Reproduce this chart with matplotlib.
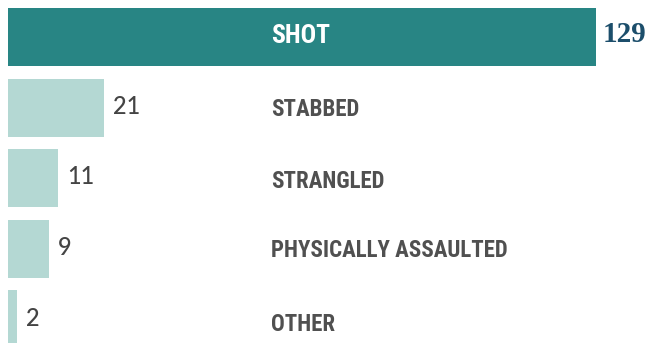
import matplotlib
matplotlib.use("Agg")
import matplotlib.pyplot as plt

categories = ["SHOT", "STABBED", "STRANGLED", "PHYSICALLY ASSAULTED", "OTHER"]
values = [129, 21, 11, 9, 2]

DARK = "#288584"
LIGHT = "#b4d8d3"
LABEL_COL = "#505050"
NUM_COL = "#444444"
TOP_NUM_COL = "#1c4e6b"

W, H, DPI = 650, 343, 100
fig = plt.figure(figsize=(W / DPI, H / DPI), dpi=DPI)
fig.patch.set_facecolor("white")

left_px, right_px = 8, 596
step_px = 70.6
first_center_px = 37
ax = fig.add_axes([left_px / W, 0, (right_px - left_px) / W, 1])
ax.set_xlim(0, max(values))
ax.set_ylim((H - first_center_px) / step_px, -first_center_px / step_px)
ax.axis("off")

ypos = list(range(len(categories)))
colors = [DARK] + [LIGHT] * (len(categories) - 1)
ax.barh(ypos, values, height=58 / step_px, color=colors, edgecolor="none")

label_x = (271 - left_px) / (right_px - left_px)
cond = ["Roboto Condensed", "Barlow Condensed", "DejaVu Sans"]
label_dy_px = [-1.5, 1.5, 3, 2, 5]
for i, (cat, v) in enumerate(zip(categories, values)):
    dy = -label_dy_px[i] * 72 / DPI
    if i == 0:
        ax.annotate(cat, xy=(label_x, i), xycoords=ax.get_yaxis_transform(),
                    xytext=(0, dy), textcoords="offset points",
                    ha="left", va="center", color="white", fontsize=18.5,
                    fontweight="bold", family=cond)
        ax.annotate(str(v), xy=(v, i), xytext=(4.5, 1.5), textcoords="offset points",
                    ha="left", va="center", color=TOP_NUM_COL, fontsize=21,
                    fontweight="bold", family=["Liberation Serif", "DejaVu Serif"])
    else:
        ax.annotate(cat, xy=(label_x, i), xycoords=ax.get_yaxis_transform(),
                    xytext=(0, dy), textcoords="offset points",
                    ha="left", va="center", color=LABEL_COL, fontsize=16.5,
                    fontweight="bold", family=cond)
        ax.annotate(str(v), xy=(v, i), xytext=(6.5, 1.0), textcoords="offset points",
                    ha="left", va="center", color=NUM_COL, fontsize=17,
                    fontweight=500, family=["Lato", "DejaVu Sans"])

fig.savefig("out.png", dpi=DPI, facecolor="white")
